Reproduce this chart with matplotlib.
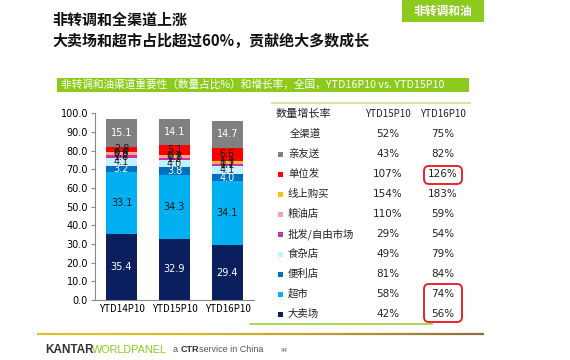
import matplotlib
matplotlib.use("Agg")
import matplotlib.pyplot as plt
import numpy as np
from matplotlib.patches import Rectangle, FancyBboxPatch
from matplotlib.transforms import IdentityTransform
from matplotlib.collections import LineCollection

plt.rcParams['font.family'] = ['Noto Sans CJK SC', 'DejaVu Sans']

# ---------------- data ----------------
periods = ["YTD14P10", "YTD15P10", "YTD16P10"]
channels = ["大卖场", "超市", "便利店", "食杂店", "批发/自由市场", "粮油店", "线上购买", "单位发", "亲友送"]
share_hyper = [35.4, 32.9, 29.4]
share_super = [33.1, 34.3, 34.1]
share_conv = [3.2, 3.8, 4.0]
share_grocery = [4.1, 4.0, 4.1]
share_wholesale = [1.8, 1.2, 1.1]
share_grain = [0.9, 0.8, 0.7]
share_online = [0.8, 0.7, 1.3]
share_unit = [2.8, 5.1, 6.6]
share_gift = [15.1, 14.1, 14.7]
series = [share_hyper, share_super, share_conv, share_grocery, share_wholesale,
          share_grain, share_online, share_unit, share_gift]
colors = ["#0B1F5E", "#00B0F0", "#0070C0", "#C2F2FF", "#CC3399",
          "#FF99CC", "#FFC000", "#FF0000", "#808080"]
label_colors = ["white", "#1a1a1a", "white", "#333333", "#1a1a1a",
                "#1a1a1a", "#1a1a1a", "#1a1a1a", "white"]

yticks = [0, 10, 20, 30, 40, 50, 60, 70, 80, 90, 100]

table_header = ["数量增长率", "YTD15P10", "YTD16P10"]
table_rows = ["全渠道", "亲友送", "单位发", "线上购买", "粮油店", "批发/自由市场", "食杂店", "便利店", "超市", "大卖场"]
growth_15 = ["52%", "43%", "107%", "154%", "110%", "29%", "49%", "81%", "58%", "42%"]
growth_16 = ["75%", "82%", "126%", "183%", "59%", "54%", "79%", "84%", "74%", "56%"]
row_colors = [None, "#808080", "#FF0000", "#FFC000", "#FF99CC", "#CC3399",
              "#C2F2FF", "#0070C0", "#00B0F0", "#0B1F5E"]

W, H = 570, 360
fig = plt.figure(figsize=(W / 100, H / 100), dpi=100)
fig.patch.set_facecolor("white")

def fx(x):
    return x / W

def fy(y):
    return 1 - y / H

def ftext(x, y, s, **kw):
    fig.text(fx(x), fy(y), s, **kw)

# ---------------- chart ----------------
ax = fig.add_axes([fx(95), fy(300), fx(254) - fx(95), fy(113.3) - fy(300)])
x = np.arange(len(periods))
bottom = np.zeros(len(periods))
for vals, c, lc in zip(series, colors, label_colors):
    v = np.array(vals)
    ax.bar(x, v, 0.57, bottom=bottom, color=c, edgecolor="none", zorder=2)
    for xi, b, vi in zip(x, bottom, v):
        ax.text(xi, b + vi / 2, f"{vi:.1f}", ha="center", va="center",
                fontsize=7, color=lc, zorder=3, family="DejaVu Sans")
    bottom += v

ax.set_xlim(-0.5, 2.5)
ax.set_ylim(0, 100)
ax.set_yticks(yticks)
ax.set_yticklabels([f"{t:.1f}" for t in yticks], family="DejaVu Sans")
ax.set_xticks(x)
ax.set_xticklabels(periods, family="Noto Sans CJK SC")
ax.tick_params(axis="y", labelsize=7, length=3, color="#888888", pad=2)
ax.tick_params(axis="x", labelsize=7, length=0, pad=3)
for s in ["top", "right"]:
    ax.spines[s].set_visible(False)
for s in ["left", "bottom"]:
    ax.spines[s].set_color("#888888")
    ax.spines[s].set_linewidth(0.8)

# ---------------- titles ----------------
ftext(52, 20, "非转调和全渠道上涨", fontsize=10.8, fontweight="bold", va="center", ha="left", color="#111111")
ftext(52, 41, "大卖场和超市占比超过60%，贡献绝大多数成长", fontsize=10.8, fontweight="bold", va="center", ha="left", color="#111111")

idt = IdentityTransform()
fig.patches.append(Rectangle((402, H - 22), 82, 22, transform=idt, facecolor="#8CCB1E", edgecolor="none"))
ftext(443, 11, "非转调和油", fontsize=8.5, fontweight="bold", color="white", ha="center", va="center")

fig.patches.append(Rectangle((57, H - 92), 412, 14, transform=idt, facecolor="#8CCB1E", edgecolor="none"))
ftext(61, 85, "非转调和油渠道重要性（数量占比%）和增长率，全国，YTD16P10 vs. YTD15P10",
      fontsize=7.7, color="white", ha="left", va="center")

# table lines
fig.lines.append(plt.Line2D([272, 470], [H - 103, H - 103], transform=idt, color="#C8E38E", lw=1.2))
fig.lines.append(plt.Line2D([250, 432], [H - 324, H - 324], transform=idt, color="#9BD13A", lw=1.2))

# ---------------- table ----------------
ftext(276, 114, table_header[0], fontsize=8, ha="left", va="center", color="#222222")
ftext(388, 114, table_header[1], fontsize=7, ha="center", va="center", color="#222222")
ftext(443, 114, table_header[2], fontsize=7, ha="center", va="center", color="#222222")
row_y0, row_dy = 134, 20
for i, (name, g15, g16, rc) in enumerate(zip(table_rows, growth_15, growth_16, row_colors)):
    yy = row_y0 + i * row_dy
    if rc is None:
        ftext(290, yy, name, fontsize=7.5, ha="left", va="center", color="#222222")
    else:
        fig.patches.append(Rectangle((277.5, H - yy - 2.5), 5, 5, transform=idt, facecolor=rc, edgecolor="none"))
        ftext(288, yy, name, fontsize=7.5, ha="left", va="center", color="#222222")
    ftext(388, yy, g15, fontsize=7.5, ha="center", va="center", color="#222222", family="DejaVu Sans")
    ftext(443, yy, g16, fontsize=7.5, ha="center", va="center", color="#222222", family="DejaVu Sans")

# red highlight boxes
for (x0, y0, x1, y1) in [(424, 166, 462, 184), (424, 284, 462, 322)]:
    fig.patches.append(FancyBboxPatch((x0, H - y1), x1 - x0, y1 - y0, boxstyle="round,pad=0,rounding_size=5",
                                      transform=idt, facecolor="none", edgecolor="#E8141E", lw=1.3))

# ---------------- footer ----------------
xs = np.linspace(37, 484, 120)
segs = [[(xs[i], H - 334), (xs[i + 1], H - 334)] for i in range(len(xs) - 1)]
c0 = np.array(matplotlib.colors.to_rgb("#E0C030"))
c1 = np.array(matplotlib.colors.to_rgb("#8C6A3A"))
tt = np.linspace(0, 1, len(segs)) ** 2
cols = [tuple(c0 * (1 - t) + c1 * t) for t in tt]
lc = LineCollection(segs, colors=cols, linewidths=1.6, transform=idt)
fig.add_artist(lc)

ftext(45, 350, "KANTAR", fontsize=8.5, fontweight="bold", color="#333333", ha="left", va="center", family="Liberation Sans")
ftext(92, 350, "WORLDPANEL", fontsize=7.8, color="#8CCB1E", ha="left", va="center", family="Liberation Sans")
ftext(173, 350, "a", fontsize=6.5, color="#555555", ha="left", va="center", family="Liberation Sans")
ftext(181, 350, "CTR", fontsize=6.5, fontweight="bold", color="#333333", ha="left", va="center", family="Liberation Sans")
ftext(199, 350, "service in China", fontsize=6.5, color="#555555", ha="left", va="center", family="Liberation Sans")
ftext(281, 350, "94", fontsize=4, color="#666666", ha="left", va="center", family="DejaVu Sans")

fig.savefig("out.png", dpi=100, facecolor="white")
